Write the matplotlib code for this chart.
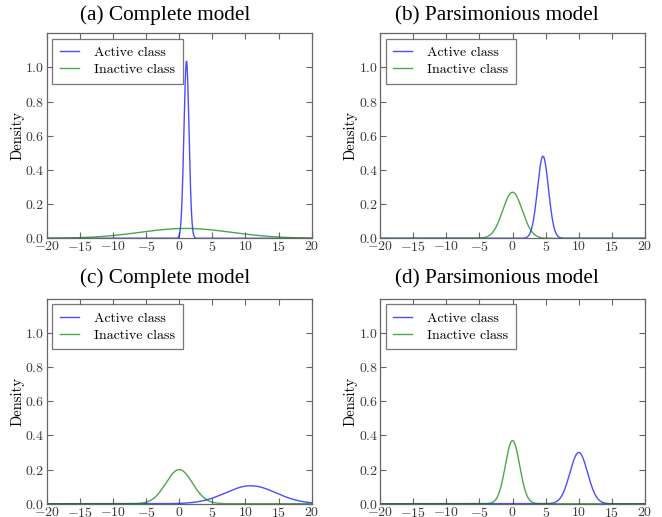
import numpy as np
import matplotlib
matplotlib.use("Agg")
import matplotlib.pyplot as plt

plt.rcParams['font.family'] = 'serif'
plt.rcParams['font.serif'] = ['cmr10']
plt.rcParams['mathtext.fontset'] = 'cm'
plt.rcParams['axes.formatter.use_mathtext'] = True
plt.rcParams['axes.unicode_minus'] = True

titles = ["(a) Complete model", "(b) Parsimonious model",
          "(c) Complete model", "(d) Parsimonious model"]
series_names = ["Active class", "Inactive class"]
# Normal density parameters (mean, sd)
active_mean = [1.1, 4.6, 10.8, 10.0]
active_sd = [0.385, 0.83, 3.8, 1.33]
inactive_mean = [1.0, 0.0, 0.0, 0.0]
inactive_sd = [6.9, 1.48, 2.0, 1.08]
xticks = [-20, -15, -10, -5, 0, 5, 10, 15, 20]
yticks = [0.0, 0.2, 0.4, 0.6, 0.8, 1.0]


def npdf(x, m, s):
    return np.exp(-0.5 * ((x - m) / s) ** 2) / (s * np.sqrt(2 * np.pi))


fig = plt.figure(figsize=(6.62, 5.17), dpi=100)
W, H = 662, 517
boxes = [(46.7, 33.3, 311.7, 238.3), (380, 33.3, 645, 238.3),
         (46.7, 298.7, 311.7, 503.7), (380, 298.7, 645, 503.7)]
title_pos = [(165, 20.5), (497, 20.5), (165, 283.5), (497, 283.5)]
x = np.linspace(-20, 20, 2001)
for i, (l, t, r, b) in enumerate(boxes):
    ax = fig.add_axes([l / W, 1 - b / H, (r - l) / W, (b - t) / H])
    ax.plot(x, npdf(x, active_mean[i], active_sd[i]), color=(0, 0, 1),
            alpha=0.7, lw=1.0, label=series_names[0])
    ax.plot(x, npdf(x, inactive_mean[i], inactive_sd[i]), color=(0, 0.5, 0),
            alpha=0.7, lw=1.0, label=series_names[1])
    ax.set_xlim(-20, 20)
    ax.set_ylim(0, 1.2)
    ax.set_xticks(xticks)
    ax.set_yticks(yticks)
    ax.tick_params(direction='in', top=True, right=True, labelsize=10,
                   length=4, color='#666666', labelcolor='#3a3a3a', pad=1.5)
    for sp in ax.spines.values():
        sp.set_color('#666666')
        sp.set_linewidth(0.9)
    tx, ty = title_pos[i]
    fig.text(tx / W, 1 - ty / H, titles[i], fontsize=15.3, ha='center',
             va='baseline', family='Liberation Serif')
    ax.set_ylabel("Density", fontsize=10.5, labelpad=0.5)
    leg = ax.legend(loc='upper left', fontsize=10, fancybox=False,
                    handlelength=1.35, borderpad=0.55, labelspacing=0.3,
                    handletextpad=1.1, borderaxespad=0.4)
    leg.get_frame().set_edgecolor('#555555')
    leg.get_frame().set_linewidth(0.9)

fig.savefig("out.png", dpi=100)
